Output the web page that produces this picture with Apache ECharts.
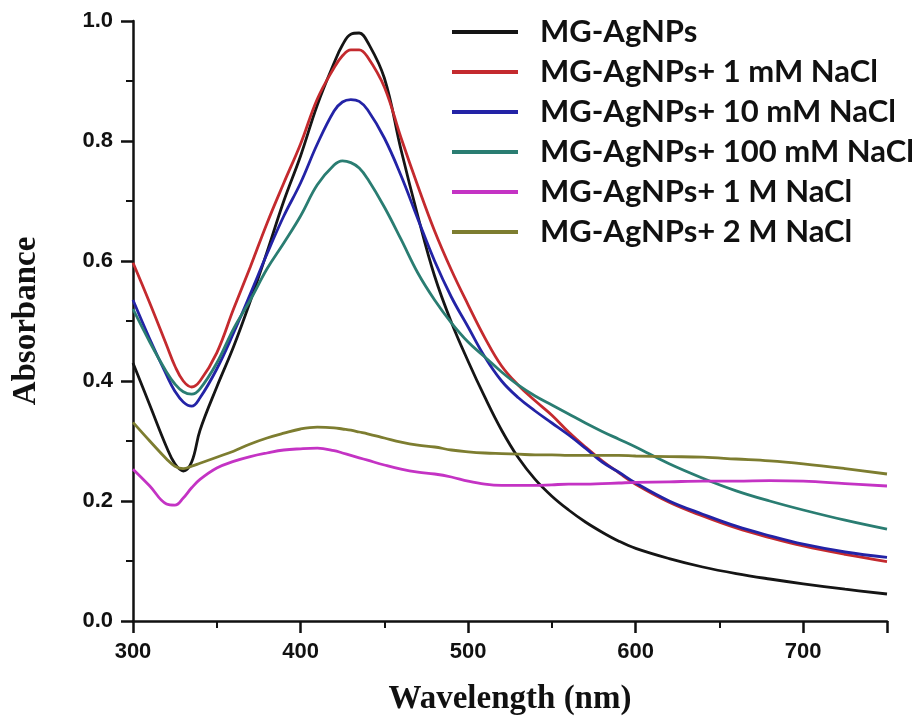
<!DOCTYPE html>
<html><head><meta charset="utf-8">
<script src="https://cdn.jsdelivr.net/npm/echarts@6/dist/echarts.min.js"></script>
<style>html,body{margin:0;padding:0;background:#fff}#c{width:919px;height:721px}</style>
</head><body><div id="c"></div>
<script>
const wavelengths = [300,310,320,325,330,335,340,350,360,370,380,390,400,410,420,425,430,435,440,450,460,470,480,490,500,510,520,530,540,550,560,570,580,590,600,620,640,660,680,700,725,750];
const seriesNames = ['MG-AgNPs','MG-AgNPs+ 1 mM NaCl','MG-AgNPs+ 10 mM NaCl','MG-AgNPs+ 100 mM NaCl','MG-AgNPs+ 1 M NaCl','MG-AgNPs+ 2 M NaCl'];
const agnps = [0.43,0.36,0.29,0.262,0.25,0.265,0.318,0.39,0.457,0.533,0.615,0.70,0.775,0.86,0.93,0.96,0.978,0.98,0.965,0.905,0.785,0.675,0.575,0.498,0.433,0.373,0.318,0.272,0.236,0.208,0.185,0.165,0.148,0.133,0.121,0.104,0.09,0.079,0.07,0.062,0.053,0.045];
const nacl1mM = [0.597,0.53,0.46,0.425,0.40,0.39,0.40,0.447,0.52,0.59,0.663,0.73,0.795,0.87,0.922,0.942,0.952,0.952,0.94,0.89,0.805,0.725,0.65,0.585,0.527,0.472,0.425,0.393,0.367,0.343,0.315,0.29,0.267,0.247,0.228,0.198,0.175,0.155,0.139,0.125,0.111,0.099];
const nacl10mM = [0.535,0.47,0.41,0.383,0.365,0.358,0.372,0.42,0.48,0.545,0.612,0.675,0.73,0.795,0.85,0.865,0.869,0.866,0.852,0.805,0.742,0.67,0.60,0.54,0.49,0.44,0.40,0.372,0.35,0.33,0.31,0.288,0.265,0.248,0.23,0.20,0.178,0.158,0.142,0.128,0.115,0.106];
const nacl100mM = [0.52,0.465,0.415,0.395,0.382,0.378,0.387,0.43,0.487,0.535,0.587,0.63,0.675,0.727,0.76,0.767,0.764,0.755,0.737,0.69,0.636,0.58,0.535,0.497,0.465,0.44,0.415,0.393,0.375,0.36,0.345,0.33,0.316,0.303,0.29,0.262,0.238,0.217,0.2,0.185,0.168,0.153];
const nacl1M = [0.253,0.225,0.195,0.193,0.205,0.222,0.236,0.255,0.266,0.274,0.28,0.285,0.287,0.288,0.284,0.28,0.276,0.272,0.268,0.26,0.253,0.248,0.245,0.24,0.233,0.228,0.226,0.226,0.226,0.227,0.228,0.228,0.229,0.23,0.231,0.232,0.233,0.233,0.234,0.233,0.229,0.225];
const nacl2M = [0.331,0.30,0.27,0.258,0.254,0.258,0.263,0.273,0.283,0.295,0.305,0.313,0.32,0.323,0.322,0.32,0.318,0.315,0.312,0.305,0.298,0.293,0.29,0.285,0.282,0.28,0.279,0.278,0.277,0.277,0.276,0.276,0.276,0.276,0.275,0.274,0.273,0.27,0.267,0.262,0.254,0.245];
const colors = ['#151515','#c42a2e','#2323a6','#2a7d72','#c433c4','#7d7d30'];
const allValues = [agnps,nacl1mM,nacl10mM,nacl100mM,nacl1M,nacl2M];

const chart = echarts.init(document.getElementById('c'), null, {renderer:'canvas'});
const tickFont = {fontFamily:'Liberation Sans, Arial, sans-serif', fontWeight:'bold', fontSize:22, color:'#111'};
const titleFont = {fontFamily:'Liberation Serif, Times New Roman, serif', fontWeight:'bold', fontSize:33, color:'#111'};
chart.setOption({
  animation:false,
  color: colors,
  grid:{left:133, right:32, top:21, bottom:99, containLabel:false},
  legend:{
    orient:'vertical', left:447, top:7,
    itemWidth:66, itemHeight:4, itemGap:0, icon:'rect',
    data: seriesNames,
    textStyle:{fontFamily:'Lato, Open Sans, sans-serif', fontWeight:'bold', fontSize:31, color:'#111', lineHeight:40, padding:[0,0,0,17]}
  },
  xAxis:{
    type:'value', min:300, max:750, interval:100,
    name:'Wavelength (nm)', nameLocation:'middle', nameGap:62, nameTextStyle:titleFont,
    axisLine:{show:true, onZero:false, lineStyle:{color:'#111', width:2.5}},
    axisTick:{show:true, length:12, lineStyle:{color:'#111', width:2.5}},
    minorTick:{show:true, splitNumber:2, length:7, lineStyle:{color:'#111', width:2}},
    axisLabel:{...tickFont, margin:20, showMaxLabel:false},
    splitLine:{show:false}
  },
  yAxis:{
    type:'value', min:0, max:1.0, interval:0.2,
    name:'Absorbance', nameLocation:'middle', nameGap:90, nameTextStyle:titleFont,
    axisLine:{show:true, lineStyle:{color:'#111', width:2.5}},
    axisTick:{show:true, length:12, lineStyle:{color:'#111', width:2.5}},
    minorTick:{show:true, splitNumber:2, length:7, lineStyle:{color:'#111', width:2}},
    axisLabel:{...tickFont, margin:20, formatter:v=>v.toFixed(1)},
    splitLine:{show:false}
  },
  series: seriesNames.map((n,i)=>({
    name:n, type:'line', smooth:0.4, showSymbol:false, symbol:'none',
    lineStyle:{width:2.8, color:colors[i]}, itemStyle:{color:colors[i]},
    data: wavelengths.map((w,j)=>[w, allValues[i][j]])
  }))
});
</script></body></html>
